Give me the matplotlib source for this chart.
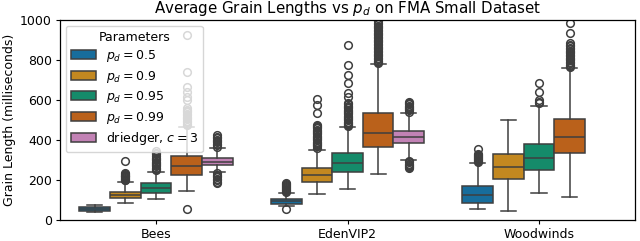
import matplotlib
matplotlib.use("Agg")
import matplotlib.pyplot as plt
import matplotlib.colors as mcolors
from matplotlib.patches import Patch
import colorsys

categories = ["Bees", "EdenVIP2", "Woodwinds"]
series = ["$p_d = 0.5$", "$p_d = 0.9$", "$p_d = 0.95$", "$p_d = 0.99$", "driedger, $c = 3$"]
base_colors = ["#0173b2", "#de8f05", "#029e73", "#d55e00", "#cc78bc"]

# per series: lists over categories (None = missing)
q1 = {
    0: [46, 80, 87], 1: [108, 192, 205], 2: [137, 242, 250], 3: [225, 367, 337], 4: [275, 387, None]}
med = {
    0: [53, 95, 125], 1: [125, 225, 265], 2: [158, 283, 311], 3: [268, 433, 413], 4: [292, 417, None]}
q3 = {
    0: [63, 105, 168], 1: [142, 258, 332], 2: [187, 337, 380], 3: [320, 533, 505], 4: [308, 447, None]}
whislo = {
    0: [38, 68, 53], 1: [83, 130, 47], 2: [105, 157, 133], 3: [147, 230, 117], 4: [240, 300, None]}
whishi = {
    0: [75, 133, 283], 1: [192, 352, 500], 2: [242, 463, 572], 3: [465, 778, 758], 4: [358, 533, None]}
fliers = {
    0: [[],
        [53, 140, 145, 150, 155, 160, 165, 170, 175, 180, 185],
        [288, 293, 298, 303, 308, 313, 318, 323, 330, 355]],
    1: [[198, 202, 206, 210, 214, 218, 222, 226, 230, 234, 297],
        [362, 368, 374, 380, 386, 392, 398, 404, 410, 416, 422, 428, 434, 440, 446, 452, 458, 464, 470, 476, 533, 575, 603],
        []],
    2: [[250, 256, 262, 268, 274, 280, 286, 292, 298, 305, 312, 320, 328, 336, 345],
        [468, 474, 480, 486, 492, 498, 504, 510, 516, 522, 528, 534, 540, 546, 552, 558, 564, 570, 578, 586, 617, 633, 683, 725, 775, 875],
        [583, 592, 600, 642, 683]],
    3: [[55, 475, 482, 489, 496, 503, 510, 517, 524, 531, 538, 545, 552, 560, 600, 617, 642, 667, 742, 925],
        [783, 790, 797, 804, 811, 818, 825, 832, 839, 846, 853, 860, 867, 874, 881, 888, 895, 902, 909, 916, 923, 930, 937, 944, 951, 958, 965, 972, 979, 986, 993, 1000],
        [763, 770, 777, 784, 791, 798, 805, 812, 819, 826, 833, 840, 847, 854, 861, 868, 875, 883, 933, 983]],
    4: [[185, 192, 199, 206, 213, 220, 227, 234, 367, 374, 381, 388, 395, 402, 409, 416, 424],
        [258, 264, 270, 276, 282, 288, 295, 542, 548, 554, 560, 566, 572, 578, 585, 592],
        []],
}


def desat(c, s=0.75):
    r, g, b = mcolors.to_rgb(c)
    h, l, sat = colorsys.rgb_to_hls(r, g, b)
    return colorsys.hls_to_rgb(h, l, sat * s)


colors = [desat(c) for c in base_colors]
line_col = "#3f3f3f"
lw = 1.1

plt.rcParams["font.size"] = 9
plt.rcParams["xtick.major.size"] = 3.0
plt.rcParams["ytick.major.size"] = 3.0
plt.rcParams["xtick.major.pad"] = 2.6
plt.rcParams["ytick.major.pad"] = 3.0
plt.rcParams["axes.linewidth"] = 0.9
fig = plt.figure(figsize=(6.4, 2.41), dpi=100)
ax = fig.add_axes([0.094, 0.087, 0.898, 0.830])

n = len(series)
width = 0.8 / n
for j in range(n):
    stats, pos = [], []
    for i in range(len(categories)):
        if med[j][i] is None:
            continue
        stats.append(dict(med=med[j][i], q1=q1[j][i], q3=q3[j][i],
                          whislo=whislo[j][i], whishi=whishi[j][i],
                          fliers=fliers[j][i]))
        pos.append(i + (j - (n - 1) / 2) * width)
    ax.bxp(stats, positions=pos, widths=width, patch_artist=True,
           showfliers=True, manage_ticks=False,
           boxprops=dict(facecolor=colors[j], edgecolor=line_col, linewidth=lw),
           medianprops=dict(color=line_col, linewidth=lw),
           whiskerprops=dict(color=line_col, linewidth=lw),
           capprops=dict(color=line_col, linewidth=lw),
           capwidths=width * 0.5,
           flierprops=dict(marker="o", markerfacecolor="none",
                           markeredgecolor=line_col, markersize=5.5,
                           markeredgewidth=lw))

ax.set_xlim(-0.5, len(categories) - 0.5)
ax.set_ylim(0, 1000)
ax.set_xticks(range(len(categories)))
ax.set_xticklabels(categories)
ax.set_ylabel("Grain Length (milliseconds)", labelpad=3)
ax.set_title("Average Grain Lengths vs $p_d$ on FMA Small Dataset", fontsize=10.8, pad=5)

handles = [Patch(facecolor=colors[j], edgecolor=line_col, linewidth=lw, label=series[j]) for j in range(n)]
ax.legend(handles=handles, title="Parameters", loc="upper left", fontsize=9,
          title_fontsize=9, framealpha=0.8, labelspacing=0.36,
          borderaxespad=0.45)

fig.savefig("out.png", dpi=100)
